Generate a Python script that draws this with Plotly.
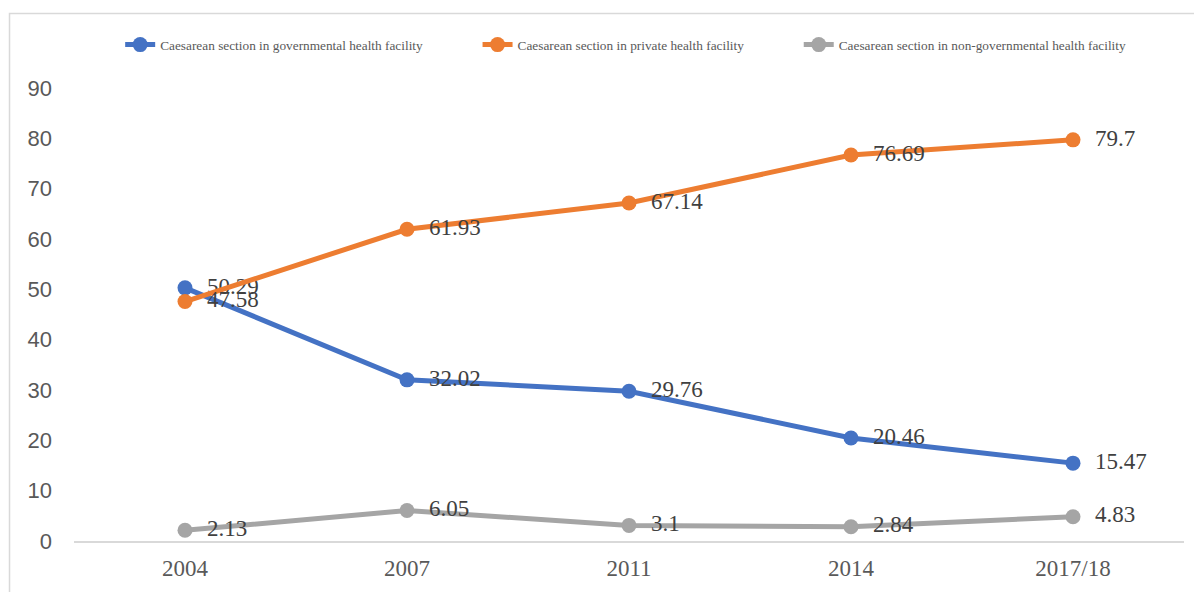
import plotly.graph_objects as go

years = ["2004", "2007", "2011", "2014", "2017/18"]
gov = [50.29, 32.02, 29.76, 20.46, 15.47]
private = [47.58, 61.93, 67.14, 76.69, 79.7]
nongov = [2.13, 6.05, 3.1, 2.84, 4.83]
names = [
    "Caesarean section in governmental health facility",
    "Caesarean section in private health facility",
    "Caesarean section in non-governmental health facility",
]
colors = ["#4472C4", "#ED7D31", "#A5A5A5"]
y_ticks = [0, 10, 20, 30, 40, 50, 60, 70, 80, 90]

NBSP = "\u00a0"
fig = go.Figure()
for name, vals, col in zip(names, [gov, private, nongov], colors):
    fig.add_trace(go.Scatter(
        x=years, y=vals, name=name + NBSP * 15, mode="lines+markers+text",
        line=dict(color=col, width=5),
        marker=dict(color=col, size=15),
        text=[NBSP * 2 + f"{v:g}" for v in vals],
        textposition="middle right",
        textfont=dict(family="Liberation Serif", size=23, color="#404040"),
        cliponaxis=False,
        hoverinfo="skip",
    ))

fig.update_layout(
    width=1194, height=584,
    margin=dict(l=66, r=18, t=80, b=51),
    paper_bgcolor="white", plot_bgcolor="white",
    showlegend=True,
    legend=dict(
        orientation="h", x=0.0416, xanchor="left", y=1.095, yanchor="middle",
        font=dict(family="Liberation Serif", size=13.3, color="#595959"),
        tracegroupgap=0,
    ),
    xaxis=dict(
        type="category", range=[-0.5, 4.5],
        showline=True, linecolor="#D9D9D9", linewidth=1.5,
        showgrid=False, ticks="", zeroline=False,
        tickfont=dict(family="Liberation Serif", size=23, color="#595959"),
        ticklabelstandoff=6,
    ),
    yaxis=dict(
        range=[0, 90], tickvals=y_ticks, showgrid=False, zeroline=False,
        showline=False, ticks="",
        tickfont=dict(family="Liberation Sans", size=22, color="#595959"),
        ticklabelstandoff=21,
    ),
    shapes=[dict(
        type="rect", xref="paper", yref="paper",
        x0=-0.0581, x1=1.2, y0=-0.3, y1=1.1645,
        line=dict(color="#D9D9D9", width=1.5), fillcolor="rgba(0,0,0,0)",
        layer="below",
    )],
)

fig.write_html("out.html")
